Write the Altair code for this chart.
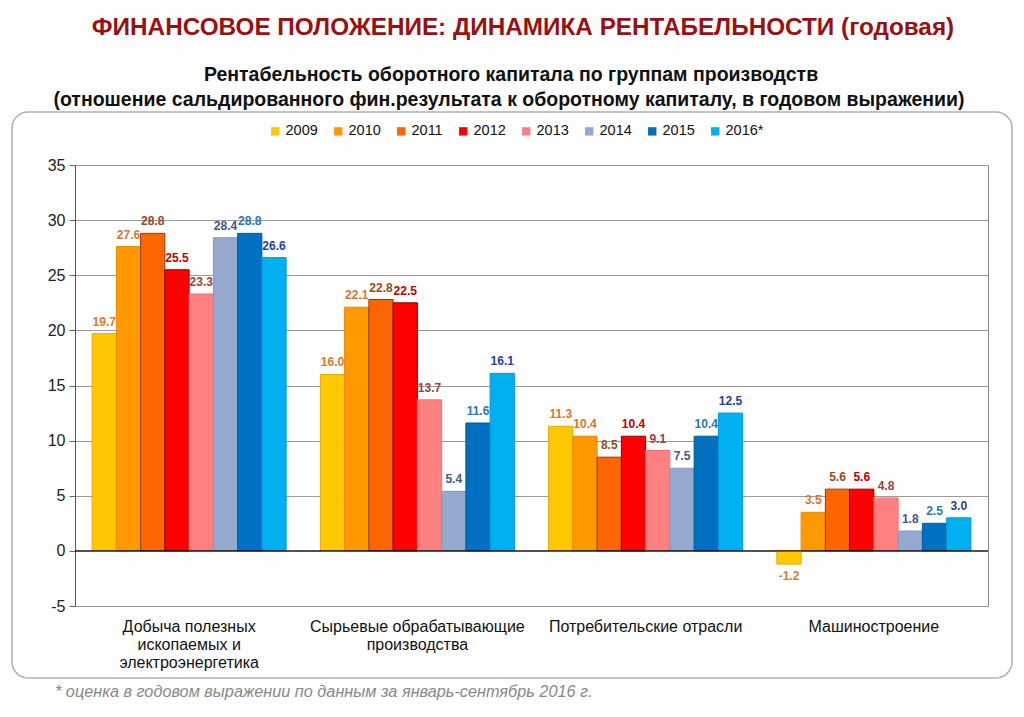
import altair as alt
import pandas as pd

categories = [
    "Добыча полезных|ископаемых и|электроэнергетика",
    "Сырьевые обрабатывающие|производства",
    "Потребительские отрасли",
    "Машиностроение",
]
years = ["2009", "2010", "2011", "2012", "2013", "2014", "2015", "2016*"]

v2009 = [19.7, 16.0, 11.3, -1.2]
v2010 = [27.6, 22.1, 10.4, 3.5]
v2011 = [28.8, 22.8, 8.5, 5.6]
v2012 = [25.5, 22.5, 10.4, 5.6]
v2013 = [23.3, 13.7, 9.1, 4.8]
v2014 = [28.4, 5.4, 7.5, 1.8]
v2015 = [28.8, 11.6, 10.4, 2.5]
v2016 = [26.6, 16.1, 12.5, 3.0]
series = [v2009, v2010, v2011, v2012, v2013, v2014, v2015, v2016]

y_ticks = [-5, 0, 5, 10, 15, 20, 25, 30, 35]

title_text = "ФИНАНСОВОЕ ПОЛОЖЕНИЕ: ДИНАМИКА РЕНТАБЕЛЬНОСТИ (годовая)"
sub1 = "Рентабельность оборотного капитала по группам производств"
sub2 = "(отношение сальдированного фин.результата к оборотному капиталу, в годовом выражении)"
footnote = "* оценка в годовом выражении по данным за январь-сентябрь 2016 г."

bar_colors = ["#FFC800", "#FF9900", "#FF6600", "#FF0000", "#FF8080", "#95A9CF", "#0070C0", "#00B0F0"]
bar_strokes = ["#E6AC00", "#E68A00", "#8B3A1A", "#8B0000", "#F07070", "#8298C0", "#005A9E", "#0098D8"]
label_colors = ["#D97A2B", "#D9742E", "#9A4A22", "#C00000", "#A0403F", "#3C5A8C", "#2E75B6", "#1F3FA8"]

rows = []
for yi, yr in enumerate(years):
    for ci, cat in enumerate(categories):
        rows.append({"cat": cat, "year": yr, "v": series[yi][ci]})
df = pd.DataFrame(rows)

FONT = "Liberation Sans, Arial, sans-serif"
W, H = 913, 441

x_enc = alt.X("cat:N", sort=categories, title=None,
              scale=alt.Scale(paddingInner=0.15, paddingOuter=0.075),
              axis=alt.Axis(orient="bottom", labelAngle=0, ticks=False, domain=False,
                            labelPadding=12, labelFontSize=16, labelLineHeight=18,
                            labelFont=FONT, labelColor="#111", labelBaseline="top",
                            labelExpr="split(datum.value, '|')", labelLimit=300))
xo_enc = alt.XOffset("year:N", sort=years, scale=alt.Scale(paddingInner=0, paddingOuter=0))
y_scale = alt.Scale(domain=[-5, 35], nice=False, zero=False)

bars = alt.Chart(df).mark_bar(strokeWidth=1).encode(
    x=x_enc,
    xOffset=xo_enc,
    y=alt.Y("v:Q", scale=y_scale, title=None,
            axis=alt.Axis(values=y_ticks, labelFontSize=16, labelColor="#222",
                          labelFont=FONT, labelExpr="'' + datum.value",
                          tickSize=6, tickColor="#666", domainColor="#555",
                          gridColor="#9a9a9a", labelPadding=4)),
    color=alt.Color("year:N", sort=years,
                    scale=alt.Scale(domain=years, range=bar_colors),
                    legend=alt.Legend(orient="none", legendX=193, legendY=-41,
                                      direction="horizontal", columns=8, title=None,
                                      symbolType="square", symbolSize=70,
                                      symbolStrokeWidth=0, labelFontSize=14.5,
                                      labelFont=FONT, labelColor="#111",
                                      columnPadding=13, labelOffset=3)),
    stroke=alt.Stroke("year:N", scale=alt.Scale(domain=years, range=bar_strokes), legend=None),
)

lab_scale = alt.Scale(domain=years, range=label_colors)
labels_pos = alt.Chart(df).transform_filter("datum.v >= 0").transform_calculate(
    lab="format(datum.v, '.1f')"
).mark_text(
    baseline="bottom", dy=-5, fontSize=12, fontWeight="bold", font=FONT
).encode(
    x=alt.X("cat:N", sort=categories), xOffset=alt.XOffset("year:N", sort=years),
    y=alt.Y("v:Q", scale=y_scale),
    text=alt.Text("lab:N"),
    color=alt.Color("year:N", scale=lab_scale, legend=None),
)
labels_neg = alt.Chart(df).transform_filter("datum.v < 0").transform_calculate(
    lab="'-' + format(abs(datum.v), '.1f')"
).mark_text(
    baseline="top", dy=7, fontSize=12, fontWeight="bold", font=FONT
).encode(
    x=alt.X("cat:N", sort=categories), xOffset=alt.XOffset("year:N", sort=years),
    y=alt.Y("v:Q", scale=y_scale),
    text=alt.Text("lab:N"),
    color=alt.Color("year:N", scale=lab_scale, legend=None),
)

zero = alt.Chart(pd.DataFrame({"z": [0]})).mark_rule(color="#111", strokeWidth=1.2).encode(
    y=alt.Y("z:Q", scale=y_scale))

one = pd.DataFrame({"a": [0]})
frame = alt.Chart(one).mark_rect(fill=None, stroke="#b0b0b0", strokeWidth=1.5, cornerRadius=16).encode(
    x=alt.value(-63), x2=alt.value(937), y=alt.value(-53), y2=alt.value(513))

def txt(text, x, y, size, color, weight="normal", style="normal", align="center", font=FONT):
    return alt.Chart(one).mark_text(
        fontSize=size, color=color, fontWeight=weight, fontStyle=style, align=align,
        baseline="middle", font=font
    ).encode(x=alt.value(x), y=alt.value(y), text=alt.value(text))

t_main = txt(title_text, 448, -137, 24.3, "#9B0F0F", weight="bold")
t_s1 = txt(sub1, 436, -90, 19.5, "#111", weight="bold")
t_s2 = txt(sub2, 434, -65, 19.5, "#111", weight="bold")
t_foot = txt(footnote, -20, 527, 16.3, "#888", style="italic", align="left")

chart = alt.layer(
    frame, bars, zero, labels_pos, labels_neg, t_main, t_s1, t_s2, t_foot
).resolve_scale(color="independent", stroke="independent").properties(
    width=W, height=H,
    autosize=alt.AutoSizeParams(type="none"),
    padding={"left": 67, "top": 157, "right": 28, "bottom": 103},
    background="white",
).configure_view(stroke="#888", strokeWidth=1)

chart.save("out.html", embed_options={"renderer": "svg", "actions": False})
